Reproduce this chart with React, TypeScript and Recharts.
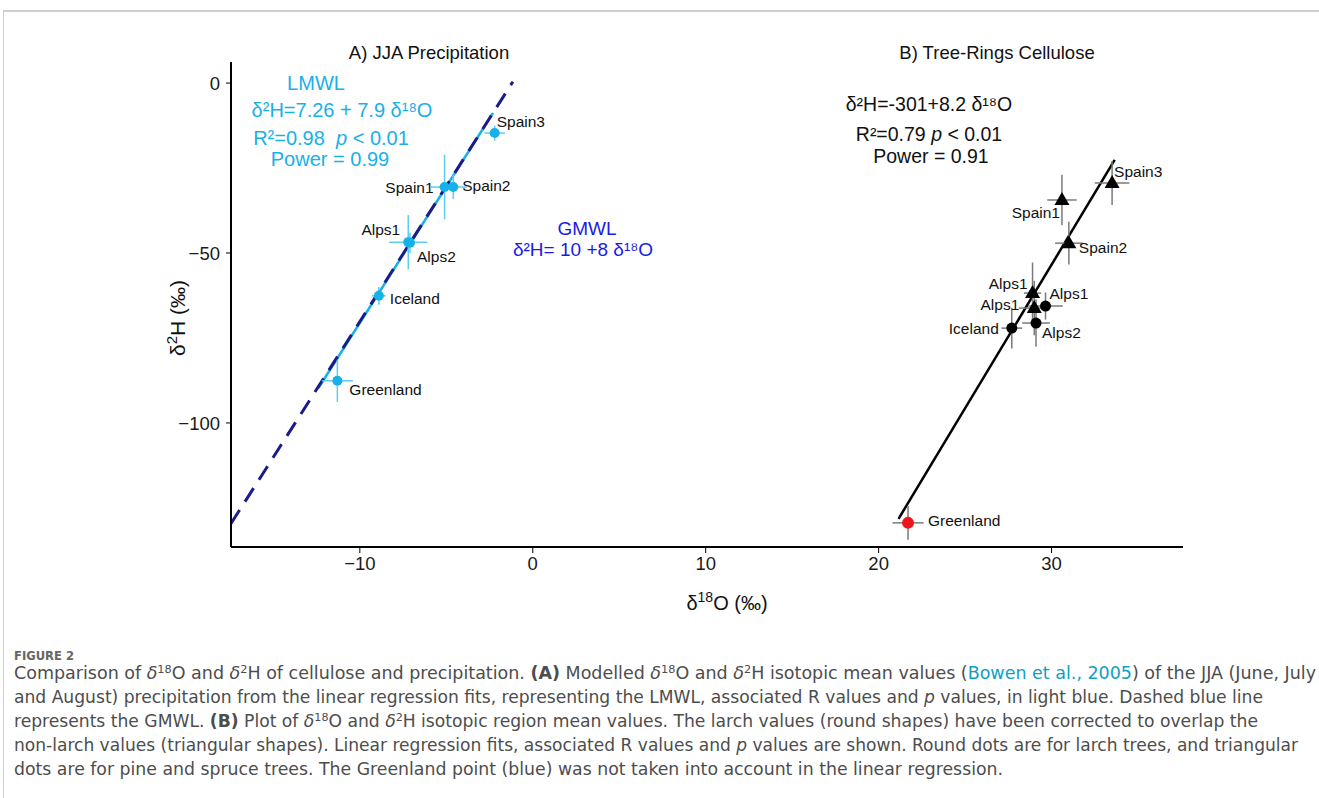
import React from 'react';
import { ScatterChart, Scatter, XAxis, YAxis, ErrorBar, ReferenceLine } from 'recharts';

// axis ticks
const X_TICKS = [-10, 0, 10, 20, 30];
const Y_TICKS = [-100, -50, 0];

// A) JJA precipitation, modelled region means
const precipSites = ['Spain3', 'Spain1', 'Spain2', 'Alps1', 'Alps2', 'Iceland', 'Greenland'];
const precipD18O = [-2.2, -5.1, -4.6, -7.2, -7.1, -8.9, -11.3];
const precipD2H = [-14.7, -30.6, -30.6, -46.8, -47.0, -62.6, -87.6];
const precipD18OErr = [0.6, 0.8, 0.8, 1.1, 0.3, 0.4, 0.9];
const precipD2HErr = [2.2, 9.5, 3.5, 8.0, 3.0, 2.6, 6.2];

// B) tree-ring cellulose, non-larch (triangles)
const pineSites = ['Spain3', 'Spain1', 'Spain2', 'Alps1', 'Alps1'];
const pineD18O = [33.5, 30.6, 31.0, 28.9, 29.0];
const pineD2H = [-29.4, -34.4, -47.1, -61.8, -66.2];
const pineD18OErr = [1.0, 0.85, 0.8, 0.5, 0.9];
const pineD2HErr = [6.5, 7.4, 6.3, 9.0, 8.0];

// B) larch (circles)
const larchSites = ['Alps1', 'Alps2', 'Iceland'];
const larchD18O = [29.65, 29.1, 27.7];
const larchD2H = [-65.6, -70.6, -72.1];
const larchD18OErr = [1.0, 0.8, 0.6];
const larchD2HErr = [4.0, 7.0, 6.0];

// B) Greenland, left out of the regression
const greenlandSites = ['Greenland'];
const greenlandD18O = [21.7];
const greenlandD2H = [-129.4];
const greenlandD18OErr = [0.9];
const greenlandD2HErr = [5.0];

// fitted / reference lines (end points)
const gmwlLine = [{ x: -17.45, y: -129.6 }, { x: -1.15, y: 0.4 }];
const lmwlLine = [{ x: -12.4, y: -89.8 }, { x: -2.3, y: -8.8 }];
const treeLine = [{ x: 21.15, y: -128.2 }, { x: 33.65, y: -22.6 }];

// label placement [dx, dy, anchor] per point
const precipLabelPos: [number, number, string][] = [
  [2, -12, 'start'], [-11, 0, 'end'], [9, -2, 'start'], [-8, -13, 'end'],
  [7, 14, 'start'], [11, 3, 'start'], [12, 9, 'start'],
];
const pineLabelPos: [number, number, string][] = [
  [2, -11, 'start'], [-2, 13, 'end'], [10, 4, 'start'], [-5, -10, 'end'], [-15, -4, 'end'],
];
const larchLabelPos: [number, number, string][] = [
  [4, -13, 'start'], [6, 9, 'start'], [-13, 0, 'end'],
];
const greenlandLabelPos: [number, number, string][] = [[20, -2, 'start']];

const rows = (sites: string[], x: number[], y: number[], xe: number[], ye: number[]) =>
  sites.map((site, i) => ({ i, site, x: x[i], y: y[i], xErr: xe[i], yErr: ye[i] }));

const precipData = rows(precipSites, precipD18O, precipD2H, precipD18OErr, precipD2HErr);
const pineData = rows(pineSites, pineD18O, pineD2H, pineD18OErr, pineD2HErr);
const larchData = rows(larchSites, larchD18O, larchD2H, larchD18OErr, larchD2HErr);
const greenlandData = rows(greenlandSites, greenlandD18O, greenlandD2H, greenlandD18OErr, greenlandD2HErr);

const SANS = '"Liberation Sans", Arial, Helvetica, sans-serif';
const CAPTION_FONT = '"Liberation Sans Narrow", "DejaVu Sans Condensed", Roboto, sans-serif';
const CYAN = '#17b1e8';
const CYAN_BAR = '#5ccdf2';
const BLUE = '#1a1ae8';
const NAVY = '#1b1b8a';
const GREY_BAR = '#7a7a7a';

const minus = (v: number) => (v < 0 ? `\u2212${Math.abs(v)}` : `${v}`);

const makeShape = (kind: 'circle' | 'triangle', color: string, r: number, placements: [number, number, string][]) =>
  (props: any) => {
    const { cx, cy, payload } = props;
    const p = placements[payload.i];
    return (
      <g>
        {kind === 'circle' ? (
          <circle cx={cx} cy={cy} r={r} fill={color} />
        ) : (
          <path d={`M${cx},${cy - 8}L${cx + 7.5},${cy + 5}L${cx - 7.5},${cy + 5}Z`} fill={color} />
        )}
        <text
          x={cx + p[0]}
          y={cy + p[1]}
          textAnchor={p[2] as any}
          dominantBaseline="central"
          fontSize={15.5}
          fontFamily={SANS}
          fill="#111"
        >
          {payload.site}
        </text>
      </g>
    );
  };

const Sup = ({ children, size = 11 }: { children: React.ReactNode; size?: number }) => (
  <tspan baselineShift="super" fontSize={size}>{children}</tspan>
);

const Delta = () => <tspan fontStyle="italic">δ</tspan>;

const NB = '\u00a0';

const Annotations = () => (
  <svg width={1319} height={798} style={{ position: 'absolute', left: 0, top: 0, pointerEvents: 'none' }}>
    {/* panel titles */}
    <text x={429} y={59} textAnchor="middle" fontSize={18.5} fontFamily={SANS} fill="#111">A) JJA Precipitation</text>
    <text x={997} y={59} textAnchor="middle" fontSize={18.5} fontFamily={SANS} fill="#111">B) Tree-Rings Cellulose</text>

    {/* LMWL */}
    <g fontFamily={SANS} fontSize={20} fill={CYAN} textAnchor="middle">
      <text x={316} y={90}>LMWL</text>
      <text x={342} y={117}>δ²H=7.26 + 7.9 δ¹⁸O</text>
      <text x={331} y={145}>R²=0.98{NB}{NB}<tspan fontStyle="italic">p</tspan> &lt; 0.01</text>
      <text x={330} y={166}>Power = 0.99</text>
    </g>

    {/* GMWL */}
    <g fontFamily={SANS} fontSize={19} fill={BLUE} textAnchor="middle">
      <text x={587} y={235}>GMWL</text>
      <text x={583} y={256}>δ²H= 10 +8 δ¹⁸O</text>
    </g>

    {/* tree-ring regression */}
    <g fontFamily={SANS} fontSize={19.5} fill="#111" textAnchor="middle">
      <text x={929} y={111}>δ²H=-301+8.2 δ¹⁸O</text>
      <text x={929} y={141}>R²=0.79 <tspan fontStyle="italic">p</tspan> &lt; 0.01</text>
      <text x={931} y={163}>Power = 0.91</text>
    </g>

    {/* axis titles */}
    <text x={727} y={610} textAnchor="middle" fontSize={20} fontFamily={SANS} fill="#111">
      δ<Sup size={14}>18</Sup>O (‰)
    </text>
    <text
      x={0}
      y={0}
      transform="translate(185,318) rotate(-90)"
      textAnchor="middle"
      fontSize={21}
      fontFamily={SANS}
      fill="#111"
    >
      δ<Sup size={15}>2</Sup>H (‰)
    </text>

    {/* caption */}
    <g fontFamily={CAPTION_FONT} fill="#4d4d4d">
      <text x={14} y={660} fontSize={12} fontWeight={700} fill="#666" textLength={60} lengthAdjust="spacingAndGlyphs">FIGURE 2</text>
      <text x={14} y={679} fontSize={17} textLength={1302} lengthAdjust="spacingAndGlyphs">
        Comparison of <Delta /><Sup>18</Sup>O and <Delta /><Sup>2</Sup>H of cellulose and precipitation. <tspan fontWeight={700}>(A)</tspan> Modelled <Delta /><Sup>18</Sup>O and <Delta /><Sup>2</Sup>H isotopic mean values (<tspan fill="#0f9fc2">Bowen et al., 2005</tspan>) of the JJA (June, July
      </text>
      <text x={14} y={703} fontSize={17} textLength={1249} lengthAdjust="spacingAndGlyphs">
        and August) precipitation from the linear regression fits, representing the LMWL, associated R values and <tspan fontStyle="italic">p</tspan> values, in light blue. Dashed blue line
      </text>
      <text x={14} y={727} fontSize={17} textLength={1244} lengthAdjust="spacingAndGlyphs">
        represents the GMWL. <tspan fontWeight={700}>(B)</tspan> Plot of <Delta /><Sup>18</Sup>O and <Delta /><Sup>2</Sup>H isotopic region mean values. The larch values (round shapes) have been corrected to overlap the
      </text>
      <text x={14} y={751} fontSize={17} textLength={1284} lengthAdjust="spacingAndGlyphs">
        non-larch values (triangular shapes). Linear regression fits, associated R values and <tspan fontStyle="italic">p</tspan> values are shown. Round dots are for larch trees, and triangular
      </text>
      <text x={14} y={775} fontSize={17} textLength={989} lengthAdjust="spacingAndGlyphs">
        dots are for pine and spruce trees. The Greenland point (blue) was not taken into account in the linear regression.
      </text>
    </g>
  </svg>
);

export default function App() {
  return (
    <div style={{ position: 'absolute', left: 0, top: 0, width: 1319, height: 798, background: '#fff', overflow: 'hidden' }}>
      {/* figure frame */}
      <div style={{ position: 'absolute', left: 3, top: 10, width: 1330, height: 800, borderTop: '2px solid #cfcfcf', borderLeft: '1px solid #cfcfcf' }} />

      <div style={{ position: 'absolute', left: 0, top: 0 }}>
        <ScatterChart width={1319} height={625} margin={{ top: 62, right: 136, bottom: 48, left: 171 }}>
          <XAxis
            type="number"
            dataKey="x"
            domain={[-17.45, 37.6]}
            ticks={X_TICKS}
            allowDataOverflow
            height={30}
            axisLine={{ stroke: '#000', strokeWidth: 2 }}
            tickLine={{ stroke: '#000', strokeWidth: 1 }}
            tickSize={6}
            tickMargin={4}
            tickFormatter={minus}
            tick={{ fontSize: 18.5, fill: '#1a1a1a', fontFamily: SANS }}
          />
          <YAxis
            type="number"
            dataKey="y"
            domain={[-136.5, 6.2]}
            ticks={Y_TICKS}
            allowDataOverflow
            width={60}
            axisLine={{ stroke: '#000', strokeWidth: 2 }}
            tickLine={{ stroke: '#000', strokeWidth: 1 }}
            tickSize={5}
            tickMargin={6}
            tickFormatter={minus}
            tick={{ fontSize: 18.5, fill: '#1a1a1a', fontFamily: SANS }}
          />

          <ReferenceLine segment={lmwlLine} stroke={CYAN} strokeWidth={2.5} ifOverflow="hidden" />
          <ReferenceLine segment={gmwlLine} stroke={NAVY} strokeWidth={3} strokeDasharray="16 10" ifOverflow="hidden" />
          <ReferenceLine segment={treeLine} stroke="#000" strokeWidth={2.5} ifOverflow="hidden" />

          <Scatter data={precipData} shape={makeShape('circle', CYAN, 5, precipLabelPos)} isAnimationActive={false}>
            <ErrorBar dataKey="xErr" direction="x" width={0} stroke={CYAN_BAR} strokeWidth={1.5} />
            <ErrorBar dataKey="yErr" direction="y" width={0} stroke={CYAN_BAR} strokeWidth={1.5} />
          </Scatter>
          <Scatter data={larchData} shape={makeShape('circle', '#000', 5.5, larchLabelPos)} isAnimationActive={false}>
            <ErrorBar dataKey="xErr" direction="x" width={0} stroke={GREY_BAR} strokeWidth={1.5} />
            <ErrorBar dataKey="yErr" direction="y" width={0} stroke={GREY_BAR} strokeWidth={1.5} />
          </Scatter>
          <Scatter data={pineData} shape={makeShape('triangle', '#000', 0, pineLabelPos)} isAnimationActive={false}>
            <ErrorBar dataKey="xErr" direction="x" width={0} stroke={GREY_BAR} strokeWidth={1.5} />
            <ErrorBar dataKey="yErr" direction="y" width={0} stroke={GREY_BAR} strokeWidth={1.5} />
          </Scatter>
          <Scatter data={greenlandData} shape={makeShape('circle', '#f0141e', 6, greenlandLabelPos)} isAnimationActive={false}>
            <ErrorBar dataKey="xErr" direction="x" width={0} stroke={GREY_BAR} strokeWidth={1.5} />
            <ErrorBar dataKey="yErr" direction="y" width={0} stroke={GREY_BAR} strokeWidth={1.5} />
          </Scatter>
        </ScatterChart>
      </div>

      <Annotations />
    </div>
  );
}
